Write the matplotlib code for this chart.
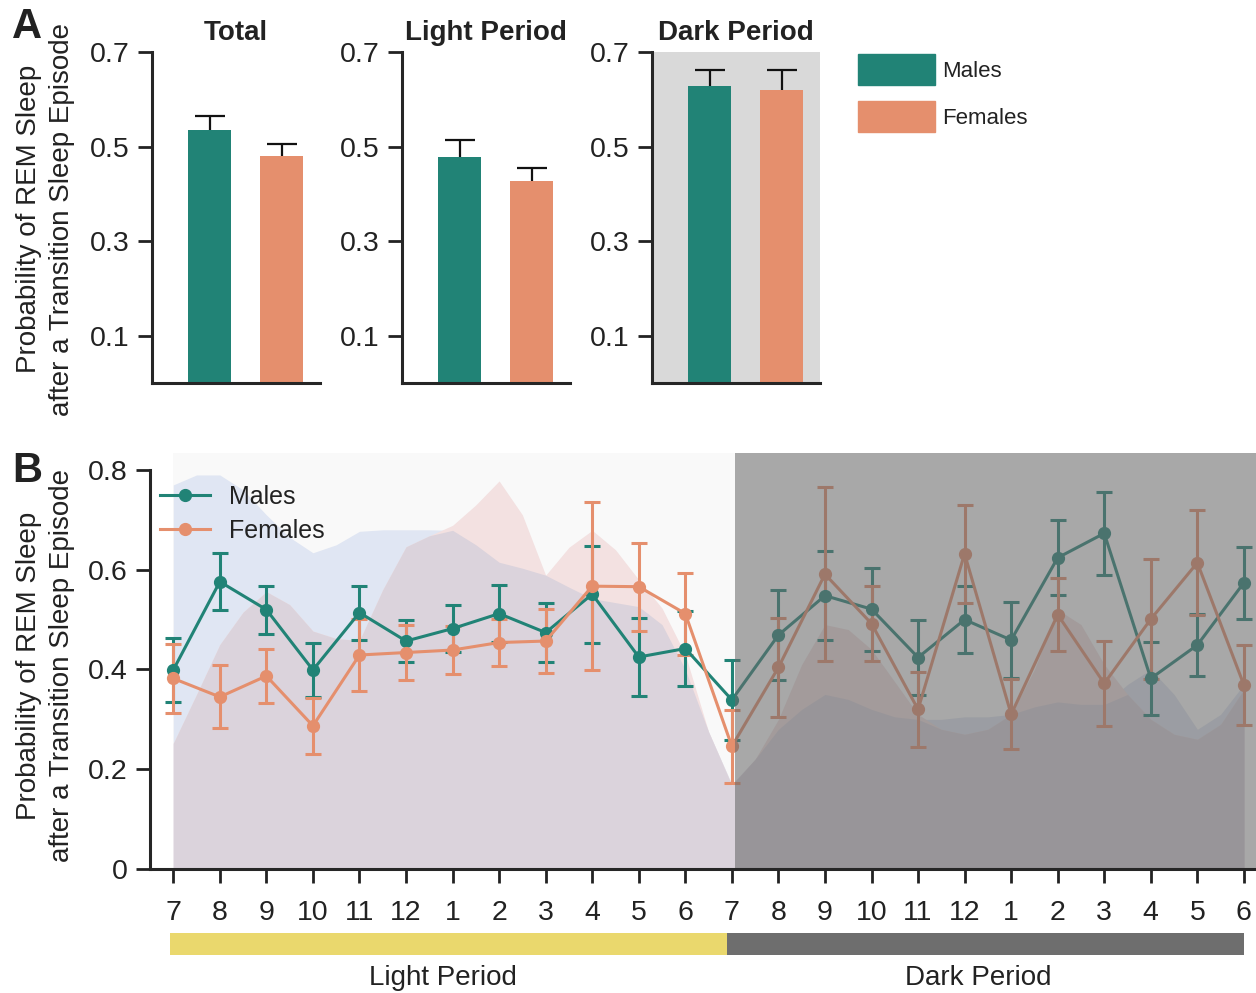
import numpy as np
import matplotlib
matplotlib.use('Agg')
import matplotlib.pyplot as plt
from matplotlib.patches import Patch, Rectangle
from matplotlib.lines import Line2D
from matplotlib.transforms import blended_transform_factory

plt.rcParams['font.family'] = 'Liberation Sans'
plt.rcParams['text.color'] = '#222222'
plt.rcParams['axes.labelcolor'] = '#222222'
plt.rcParams['xtick.color'] = '#222222'
plt.rcParams['ytick.color'] = '#222222'

TEAL = '#218376'
ORANGE = '#e58f6d'

# ---- Panel A: mean probability per period ----
periods = ['Total', 'Light Period', 'Dark Period']
males_mean = [0.534, 0.479, 0.628]
males_sem = [0.031, 0.034, 0.034]
females_mean = [0.481, 0.428, 0.620]
females_sem = [0.025, 0.026, 0.042]

# ---- Panel B: hourly probability, 7 am to 6 am ----
hour_labels = ['7', '8', '9', '10', '11', '12', '1', '2', '3', '4', '5', '6',
               '7', '8', '9', '10', '11', '12', '1', '2', '3', '4', '5', '6']
males_hourly = [0.399, 0.576, 0.520, 0.399, 0.514, 0.457, 0.482, 0.512,
                0.474, 0.551, 0.425, 0.442, 0.339, 0.469, 0.548, 0.521,
                0.424, 0.500, 0.459, 0.624, 0.673, 0.382, 0.449, 0.574]
males_hourly_err = [0.065, 0.057, 0.048, 0.055, 0.054, 0.043, 0.047, 0.057,
                    0.060, 0.097, 0.079, 0.075, 0.080, 0.091, 0.089, 0.083,
                    0.076, 0.067, 0.077, 0.075, 0.083, 0.073, 0.063, 0.072]
females_hourly = [0.382, 0.345, 0.387, 0.287, 0.429, 0.434, 0.439, 0.454,
                  0.457, 0.567, 0.566, 0.512, 0.246, 0.404, 0.591, 0.492,
                  0.320, 0.632, 0.310, 0.510, 0.372, 0.501, 0.614, 0.369]
females_hourly_err = [0.070, 0.063, 0.054, 0.056, 0.073, 0.056, 0.049, 0.047,
                      0.064, 0.168, 0.088, 0.082, 0.073, 0.100, 0.174, 0.075,
                      0.075, 0.098, 0.070, 0.073, 0.086, 0.120, 0.105, 0.081]

# background envelopes, sampled every half hour
env_x = np.arange(0, 23.5, 0.5)
env_males = [0.77, 0.79, 0.79, 0.76, 0.71, 0.665, 0.634, 0.65, 0.677, 0.68,
             0.68, 0.68, 0.679, 0.65, 0.615, 0.603, 0.589, 0.565, 0.542, 0.534,
             0.526, 0.49, 0.40, 0.275, 0.17,
             0.22, 0.28, 0.32, 0.35, 0.34, 0.32, 0.305, 0.30, 0.30, 0.305,
             0.305, 0.31, 0.325, 0.335, 0.33, 0.33, 0.37, 0.40, 0.35, 0.28,
             0.31, 0.37]
env_females = [0.252, 0.35, 0.45, 0.515, 0.556, 0.53, 0.477, 0.462, 0.458, 0.56,
               0.646, 0.668, 0.689, 0.73, 0.778, 0.71, 0.589, 0.645, 0.679, 0.64,
               0.58, 0.523, 0.43, 0.275, 0.168,
               0.22, 0.30, 0.41, 0.49, 0.48, 0.44, 0.375, 0.31, 0.28, 0.27,
               0.28, 0.31, 0.40, 0.52, 0.49, 0.41, 0.35, 0.30, 0.27, 0.26,
               0.29, 0.36]

W, H = 1256, 993
fig = plt.figure(figsize=(W / 100, H / 100), dpi=100)


def style_spines(ax):
    for s in ['top', 'right']:
        ax.spines[s].set_visible(False)
    for s in ['left', 'bottom']:
        ax.spines[s].set_linewidth(2.2)
        ax.spines[s].set_color('#262626')


def two_line_ylabel(y_px):
    fig.text(29 / W, 1 - y_px / H, 'Probability of REM Sleep', rotation=90,
             ha='center', va='center', fontsize=20)
    fig.text(62 / W, 1 - y_px / H, 'after a Transition Sleep Episode',
             rotation=90, ha='center', va='center', fontsize=20)


# Panel A bars with upper error bars only
for i, left in enumerate([152, 402, 652]):
    ax = fig.add_axes([left / W, 1 - 383 / H, 168 / W, 331 / H])
    ax.bar([0, 1], [males_mean[i], females_mean[i]], width=0.6,
           color=[TEAL, ORANGE])
    eb = ax.errorbar([0, 1], [males_mean[i], females_mean[i]],
                     yerr=[[0, 0], [males_sem[i], females_sem[i]]],
                     fmt='none', ecolor='#111111', elinewidth=1.6,
                     capsize=11, capthick=1.6)
    eb[1][0].set_visible(False)
    ax.set_xlim(-0.8, 1.53)
    ax.set_ylim(0, 0.7)
    ax.set_yticks([0.1, 0.3, 0.5, 0.7])
    ax.set_yticklabels(['0.1', '0.3', '0.5', '0.7'])
    ax.set_xticks([])
    ax.tick_params(axis='y', length=10, width=2, pad=6, labelsize=20.5)
    style_spines(ax)
    ax.set_title(periods[i], fontsize=20, fontweight='bold', pad=9)
    if periods[i] == 'Dark Period':
        ax.set_facecolor('#d9d9d9')

fig.legend([Patch(color=TEAL), Patch(color=ORANGE)], ['Males', 'Females'],
           loc='upper left', bbox_to_anchor=(858 / W, 1 - 54 / H),
           frameon=False, fontsize=16, handlelength=3.47, handleheight=1.75,
           handletextpad=0.3, labelspacing=0.75, borderpad=0, borderaxespad=0)

two_line_ylabel(219)
fig.text(12 / W, 1 - 38 / H, 'A', fontsize=30, fontweight='bold', va='baseline')

# Panel B hourly time course
axB = fig.add_axes([150 / W, 1 - 869 / H, 1106 / W, 416 / H])
hours = np.arange(len(hour_labels))

axB.axvspan(0, 12.06, color='#f9f9f9', lw=0, zorder=0.5)
axB.fill_between(env_x, 0, env_males, color='#e0e6f3', lw=0, zorder=1)
axB.fill_between(env_x, 0, env_females, color='#f3e1e1', lw=0, zorder=1)
axB.fill_between(env_x, 0, np.minimum(env_males, env_females),
                 color='#dbd3dc', lw=0, zorder=1.1)

axB.errorbar(hours, males_hourly, yerr=males_hourly_err, fmt='-o', color=TEAL,
             lw=2.2, ms=8.5, capsize=5.5, capthick=2.2, elinewidth=2.2,
             zorder=2)
axB.errorbar(hours, females_hourly, yerr=females_hourly_err, fmt='-o',
             color=ORANGE, lw=2.2, ms=8.5, capsize=5.5, capthick=2.2,
             elinewidth=2.2, zorder=2)

# dark period shading over everything
axB.axvspan(12.06, 23.3, color='#696969', alpha=0.58, lw=0, zorder=2.4)

axB.set_xlim(-0.5, 23.26)
axB.set_ylim(0, 0.834)
axB.set_xticks(hours)
axB.set_xticklabels(hour_labels)
axB.set_yticks([0, 0.2, 0.4, 0.6, 0.8])
axB.set_yticklabels(['0', '0.2', '0.4', '0.6', '0.8'])
axB.tick_params(length=10, width=2, labelsize=20.5)
axB.tick_params(axis='x', pad=12)
axB.tick_params(axis='y', pad=6)
style_spines(axB)
axB.spines['left'].set_bounds(0, 0.8)

legend_lines = [Line2D([], [], color=TEAL, marker='o', lw=2.2, ms=8.5),
                Line2D([], [], color=ORANGE, marker='o', lw=2.2, ms=8.5)]
axB.legend(legend_lines, ['Males', 'Females'], loc='upper left',
           bbox_to_anchor=(-0.007, 0.965), frameon=False, fontsize=18,
           handlelength=2.0, handletextpad=0.75, labelspacing=0.4,
           borderaxespad=0.3)

# light / dark bar under the hour axis
trans = blended_transform_factory(axB.transData, axB.transAxes)
axB.add_patch(Rectangle((-0.07, -0.207), 11.97, 0.053, transform=trans,
                        color='#ead86d', lw=0, clip_on=False))
axB.add_patch(Rectangle((11.9, -0.207), 11.1, 0.053, transform=trans,
                        color='#6e6e6e', lw=0, clip_on=False))
axB.text(5.8, -0.262, 'Light Period', transform=trans, ha='center',
         va='center', fontsize=20)
axB.text(17.3, -0.262, 'Dark Period', transform=trans, ha='center',
         va='center', fontsize=20)

two_line_ylabel(666)
fig.text(12 / W, 1 - 482 / H, 'B', fontsize=30, fontweight='bold',
         va='baseline')

fig.savefig('out.png', dpi=100)
